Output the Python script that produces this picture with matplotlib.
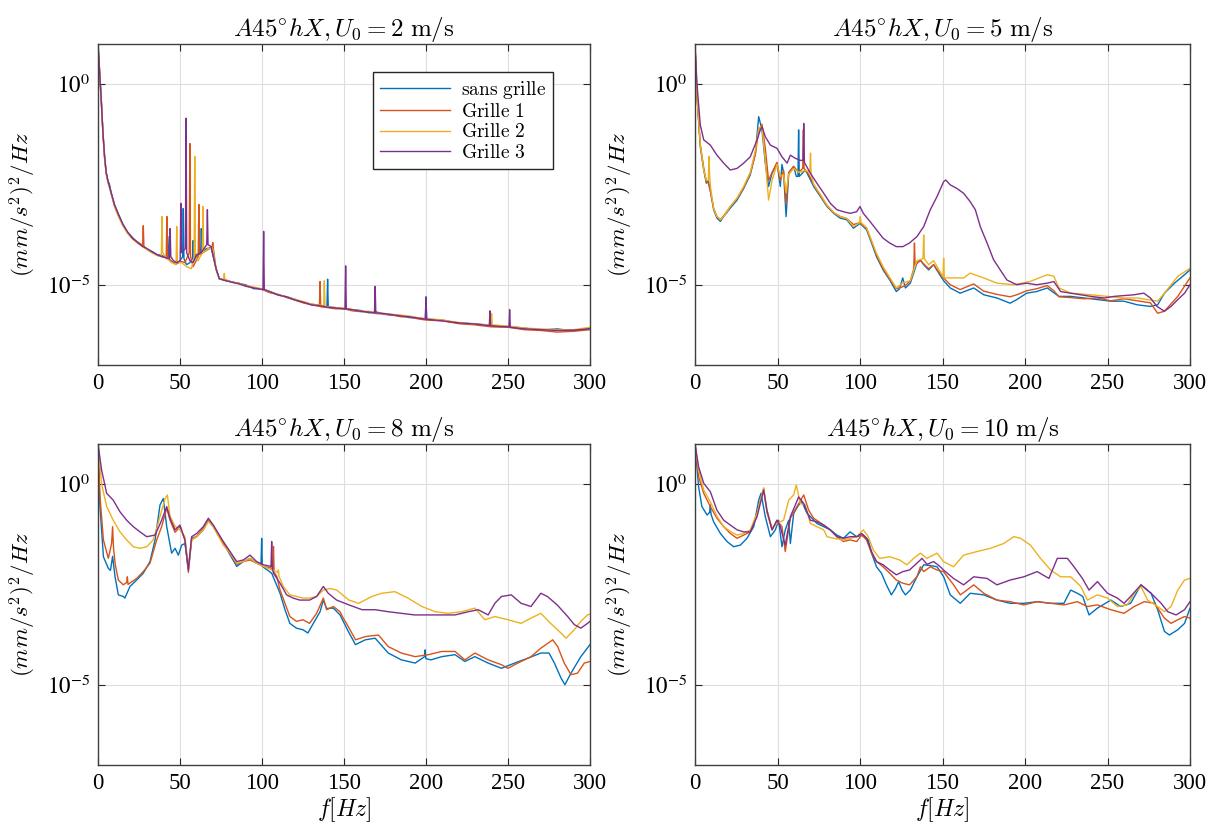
import matplotlib
matplotlib.use('Agg')
import matplotlib.pyplot as plt
import numpy as np
from matplotlib.ticker import NullLocator

# spectres : (frequence Hz, log10 PSD)
u2_sans = [(0,1.0),(1,0.3),(2,-0.4),(3,-1.2),(4,-1.8),(5,-2.2),(6,-2.4),(7,-2.5),(8,-2.7),(10,-3.0),(12,-3.2),(15,-3.48),(18,-3.7),(21,-3.82),(24,-3.95),(27,-4.02),(30,-4.12),(33,-4.17),(36,-4.25),(39,-4.27),(42,-4.35),(42.6,-3.8),(43.2,-4.35),(45,-4.42),(48,-4.48),(50,-4.4),(51.6,-4.3),(52,-3.1),(52.4,-4.35),(54,-4.5),(56,-4.45),(57.6,-4.35),(58,-3.9),(58.4,-4.4),(60,-4.3),(62.6,-4.2),(63,-3.6),(63.4,-4.2),(66,-4.1),(69,-4.08),(72,-4.6),(74,-4.85),(78,-4.9),(82,-4.93),(86,-4.97),(90,-5.0),(95,-5.1),(100,-5.1),(105,-5.17),(110,-5.25),(115,-5.3),(120,-5.36),(125,-5.44),(130,-5.48),(135,-5.52),(139.6,-5.55),(140,-4.86),(140.4,-5.55),(145,-5.57),(150,-5.6),(155,-5.62),(160,-5.64),(165,-5.7),(170,-5.68),(175,-5.74),(180,-5.76),(185,-5.77),(190,-5.82),(195,-5.83),(199.6,-5.85),(200,-5.3),(200.4,-5.86),(210,-5.88),(220,-5.96),(230,-5.97),(240,-6.02),(250,-6.04),(260,-6.08),(270,-6.13),(280,-6.1),(290,-6.15),(300,-6.08)]
u2_g1 = [(0,1.0),(1,0.28),(2,-0.42),(3,-1.22),(4,-1.82),(5,-2.22),(6,-2.42),(7,-2.56),(8,-2.72),(10,-3.02),(12,-3.24),(15,-3.5),(18,-3.7),(21,-3.85),(24,-3.93),(27.2,-4.02),(27.6,-3.53),(28,-4.04),(30,-4.12),(33,-4.2),(36,-4.26),(39,-4.3),(41.6,-4.3),(42,-3.3),(42.4,-4.3),(45,-4.44),(48,-4.47),(51,-4.42),(53,-4.45),(55.6,-4.2),(56,-1.48),(56.4,-4.3),(58,-4.55),(61.1,-4.3),(61.5,-3.0),(61.9,-4.25),(64,-4.2),(66,-4.15),(69.6,-4.05),(70,-3.95),(70.4,-4.1),(72,-4.62),(74,-4.86),(78,-4.88),(82,-4.94),(86,-4.96),(90,-5.04),(95,-5.07),(100,-5.12),(105,-5.2),(110,-5.24),(115,-5.32),(120,-5.38),(125,-5.45),(130,-5.5),(135,-5.54),(135.4,-4.92),(135.8,-5.55),(140,-5.57),(145,-5.6),(150,-5.6),(155,-5.65),(160,-5.67),(165,-5.68),(170,-5.72),(175,-5.73),(180,-5.76),(185,-5.8),(190,-5.8),(195,-5.85),(200,-5.88),(210,-5.9),(220,-5.97),(230,-6.0),(240,-6.05),(250,-6.06),(260,-6.12),(270,-6.14),(280,-6.18),(290,-6.16),(300,-6.12)]
u2_g2 = [(0,1.0),(1,0.3),(2,-0.4),(3,-1.2),(4,-1.85),(5,-2.25),(6,-2.45),(7,-2.58),(8,-2.72),(10,-3.05),(12,-3.25),(15,-3.52),(18,-3.72),(21,-3.86),(24,-3.96),(27,-4.05),(30,-4.13),(33,-4.2),(36,-4.27),(38.6,-4.3),(39,-3.3),(39.4,-4.2),(42,-4.35),(45,-4.45),(47.6,-4.5),(48,-3.55),(48.4,-4.45),(51,-4.45),(54,-4.55),(57,-4.6),(58.6,-4.3),(59,-1.8),(59.4,-4.3),(61,-4.4),(63.6,-4.2),(64,-3.05),(64.4,-4.2),(67,-4.1),(70,-4.1),(72,-4.62),(74,-4.86),(76.6,-4.86),(77,-4.72),(77.4,-4.86),(80,-4.92),(85,-4.96),(90,-5.02),(95,-5.06),(100,-5.1),(105,-5.18),(110,-5.26),(115,-5.3),(120,-5.36),(125,-5.42),(130,-5.48),(137.6,-5.52),(138,-4.9),(138.4,-5.54),(145,-5.57),(150,-5.58),(155,-5.62),(160,-5.66),(165,-5.66),(170,-5.7),(175,-5.72),(180,-5.74),(185,-5.76),(190,-5.78),(195,-5.82),(200,-5.84),(210,-5.88),(220,-5.94),(230,-5.98),(239.6,-6.0),(240,-5.72),(240.4,-6.0),(250,-6.03),(260,-6.08),(270,-6.1),(280,-6.12),(290,-6.12),(300,-6.06)]
u2_g3 = [(0,1.0),(1,0.3),(2,-0.4),(3,-1.2),(4,-1.8),(5,-2.2),(6,-2.4),(7,-2.55),(8,-2.7),(10,-3.0),(12,-3.2),(15,-3.48),(18,-3.68),(21,-3.84),(24,-3.94),(27,-4.04),(30,-4.1),(33,-4.18),(36,-4.25),(39,-4.3),(43.6,-4.35),(44,-3.6),(44.4,-4.3),(46,-4.4),(48,-4.45),(50.1,-4.4),(50.5,-2.97),(50.9,-4.2),(53.3,-4.1),(53.7,-0.85),(54.1,-4.2),(56,-4.4),(58,-4.45),(60,-4.25),(63,-4.2),(66.3,-4.0),(66.7,-3.13),(67.1,-4.0),(69,-4.05),(72,-4.6),(74,-4.85),(78,-4.9),(82,-4.94),(86,-4.98),(90,-5.03),(95,-5.08),(100.6,-5.12),(101,-3.67),(101.4,-5.12),(105,-5.18),(110,-5.26),(115,-5.3),(120,-5.38),(125,-5.43),(130,-5.5),(135,-5.52),(140,-5.56),(145,-5.58),(150.6,-5.6),(151,-4.53),(151.4,-5.6),(155,-5.62),(160,-5.66),(165,-5.68),(168.6,-5.7),(169,-5.04),(169.4,-5.7),(175,-5.72),(180,-5.75),(185,-5.78),(190,-5.8),(195,-5.83),(199.6,-5.86),(200,-5.33),(200.4,-5.86),(210,-5.9),(220,-5.95),(230,-5.98),(238.6,-6.02),(239,-5.65),(239.4,-6.02),(245,-6.04),(250.6,-6.05),(251,-5.62),(251.4,-6.06),(260,-6.1),(270,-6.12),(280,-6.14),(290,-6.13),(300,-6.1)]

u5_sans = [(0,1.0),(1.2,-0.3),(3.2,-1.56),(5.3,-2.14),(6.9,-2.47),(8,-2.4),(9.5,-2.7),(11.3,-3.13),(13.3,-3.34),(15.4,-3.42),(17.4,-3.3),(21.4,-3.09),(25.5,-2.89),(29.5,-2.6),(33.5,-2.26),(36.6,-1.72),(38.6,-0.81),(40.6,-1.14),(42.6,-1.97),(44.6,-2.55),(46.7,-2.22),(49.7,-1.97),(51.7,-2.55),(52.7,-2.0),(53.7,-2.2),(55.2,-3.3),(56.8,-2.22),(59.8,-2.05),(61.4,-2.3),(62.4,-2.3),(62.8,-1.14),(63.2,-2.3),(66.9,-2.14),(68.9,-2.3),(71.9,-2.55),(76,-2.8),(80,-3.05),(84,-3.22),(88,-3.34),(92,-3.38),(96,-3.59),(100,-3.47),(104,-3.63),(107,-3.96),(110,-4.3),(114,-4.63),(118,-4.88),(122,-5.17),(124,-5.1),(125.9,-4.83),(127.5,-5.08),(130.5,-4.96),(134.5,-4.46),(136.6,-4.38),(138.6,-4.5),(141.6,-4.63),(144.6,-4.5),(147.7,-4.71),(150.7,-4.9),(154.7,-5.08),(160.7,-5.21),(168.9,-5.08),(175,-5.25),(183,-5.33),(191,-5.46),(195,-5.37),(201,-5.21),(207,-5.17),(213.5,-5.08),(217.5,-5.2),(220.6,-5.29),(227.7,-5.29),(235.8,-5.33),(244,-5.37),(252,-5.41),(260,-5.41),(268,-5.5),(276,-5.54),(280.4,-5.5),(284.5,-5.21),(290.6,-4.96),(296.7,-4.75),(300,-4.63)]
u5_g1 = [(0,1.0),(1.2,-0.3),(3.2,-1.5),(5.3,-2.1),(6.9,-2.45),(8,-2.45),(9.5,-2.7),(11.3,-3.1),(13.3,-3.3),(15.4,-3.38),(17.4,-3.28),(21.4,-3.05),(25.5,-2.85),(29.5,-2.58),(33.5,-2.22),(36.6,-1.75),(38.6,-1.15),(40.6,-1.0),(42.6,-1.6),(44.6,-2.4),(46.7,-2.2),(49.7,-1.95),(51.7,-2.4),(53.7,-2.15),(55.2,-3.0),(56.8,-2.2),(59.8,-2.05),(62.8,-2.2),(65.3,-2.1),(65.7,-1.14),(66.1,-2.1),(68.9,-2.25),(71.9,-2.5),(76,-2.78),(80,-3.02),(84,-3.2),(88,-3.3),(92,-3.35),(96,-3.5),(100,-3.45),(104,-3.6),(107,-3.92),(110,-4.25),(114,-4.6),(118,-4.85),(122,-5.1),(125.9,-5.05),(128,-5.0),(130.5,-4.9),(132.6,-4.6),(133,-3.96),(133.4,-4.5),(136.6,-4.4),(138.6,-4.48),(141.6,-4.6),(144.6,-4.5),(147.7,-4.68),(150.7,-4.83),(154.7,-5.0),(160.7,-5.12),(168.9,-4.98),(175,-5.16),(183,-5.24),(191,-5.3),(195,-5.25),(201,-5.15),(207,-5.1),(213.5,-5.02),(217.5,-5.15),(220.6,-5.3),(227.7,-5.32),(235.8,-5.35),(244,-5.33),(252,-5.4),(260,-5.35),(268,-5.4),(276,-5.45),(280.4,-5.71),(284.5,-5.66),(292.6,-5.29),(300,-4.83)]
u5_g2 = [(0,1.0),(1.2,-0.25),(3.2,-1.5),(5.3,-2.15),(6.9,-2.4),(8.1,-2.4),(8.5,-1.8),(8.9,-2.3),(9.5,-2.6),(11.3,-3.1),(13.3,-3.3),(15.4,-3.38),(17.4,-3.3),(21.4,-3.05),(25.5,-2.84),(29.5,-2.55),(33.5,-2.2),(36.6,-1.65),(38.6,-1.1),(40.6,-1.05),(42.6,-1.9),(44.6,-2.89),(46.7,-2.4),(49.7,-2.0),(51.7,-2.3),(53.7,-2.25),(55.2,-2.7),(56.8,-2.25),(59.8,-2.1),(62.8,-2.2),(66.9,-2.15),(69.6,-2.2),(70,-1.72),(70.4,-2.25),(71.9,-2.5),(76,-2.75),(80,-3.02),(84,-3.2),(88,-3.3),(92,-3.35),(96,-3.55),(99.8,-3.45),(100.2,-3.3),(100.6,-3.45),(104,-3.58),(107,-3.9),(110,-4.22),(114,-4.55),(118,-4.82),(122,-5.08),(126,-4.95),(130.5,-4.9),(134.5,-4.4),(138.2,-4.35),(138.6,-3.76),(139,-4.35),(141.6,-4.5),(144.6,-4.4),(147.7,-4.62),(150.3,-4.8),(150.7,-4.34),(151.1,-4.83),(156,-4.83),(162.8,-4.83),(166.8,-4.71),(175,-4.83),(183,-4.96),(193,-5.0),(203,-4.92),(213.5,-4.75),(217.5,-4.79),(220.6,-5.08),(227.7,-5.21),(240,-5.25),(250,-5.29),(260,-5.33),(268,-5.33),(274.3,-5.37),(280.4,-5.41),(284.5,-5.21),(292.6,-4.79),(300,-4.59)]
u5_g3 = [(0,1.0),(1.2,0.0),(3.2,-1.02),(5.3,-1.39),(9.3,-1.52),(13.3,-1.77),(17.4,-1.97),(21.4,-2.14),(25.5,-2.1),(29.5,-1.97),(33.5,-1.81),(37.6,-1.39),(39.6,-1.14),(40.6,-1.06),(42.6,-1.31),(45.7,-1.52),(49.7,-1.6),(52.7,-1.81),(55.8,-1.97),(57.8,-1.77),(60.8,-1.85),(63.8,-1.9),(65.5,-1.9),(65.9,-0.98),(66.3,-1.95),(69.9,-2.22),(73.9,-2.47),(78,-2.72),(82,-2.97),(86,-3.13),(90,-3.18),(94,-3.22),(98,-3.18),(100,-3.05),(102,-3.22),(106,-3.42),(110,-3.63),(114,-3.84),(118,-3.96),(122,-4.05),(126,-4.05),(130,-3.96),(134.5,-3.8),(138.6,-3.55),(142.6,-3.13),(146.7,-2.8),(150.7,-2.43),(152,-2.39),(154.7,-2.51),(158.7,-2.6),(162.8,-2.72),(166.8,-2.93),(169.9,-3.13),(172.9,-3.55),(177,-3.96),(181,-4.38),(185,-4.63),(189,-4.88),(195,-5.0),(201,-4.96),(207,-5.0),(213.5,-4.96),(217.5,-4.92),(221.6,-5.17),(227.7,-5.21),(233.8,-5.25),(239.9,-5.29),(248,-5.33),(254,-5.29),(260,-5.27),(266,-5.25),(272,-5.21),(276,-5.33),(280,-5.54),(284.5,-5.66),(288.5,-5.54),(292.6,-5.37),(296.7,-5.21),(300,-5.0)]

u8_sans = [(0,1.0),(1.2,-0.56),(3.3,-1.81),(6.3,-2.1),(7.6,-2.15),(8.9,-1.8),(10.4,-2.31),(12.4,-2.76),(15.4,-2.8),(16.4,-2.84),(19.5,-2.55),(23.6,-2.39),(27.6,-2.22),(31.7,-1.93),(34.8,-1.39),(37.8,-0.52),(39.8,-0.36),(41.9,-1.06),(44.9,-1.72),(47,-1.6),(49,-1.77),(51,-1.52),(53,-1.48),(55.1,-2.1),(57.1,-1.35),(60.2,-1.31),(64.2,-1.14),(67.3,-0.9),(70.3,-1.06),(76.4,-1.47),(80.5,-1.76),(84.6,-2.05),(88.6,-1.93),(92.7,-1.85),(96.7,-1.97),(99.4,-2.0),(99.8,-1.35),(100.2,-2.05),(105.9,-2.22),(111,-2.72),(114,-3.13),(117,-3.47),(121,-3.59),(125,-3.63),(128,-3.71),(131.3,-3.47),(135.4,-3.18),(137.4,-2.89),(139.4,-3.1),(143.5,-3.09),(147.6,-3.26),(152.6,-3.67),(157,-4.0),(163,-3.88),(169,-3.84),(177,-4.21),(185,-4.38),(193.4,-4.46),(199.1,-4.3),(199.5,-4.13),(199.9,-4.35),(203,-4.38),(209.6,-4.3),(217.7,-4.25),(223.7,-4.42),(229.8,-4.3),(237.9,-4.46),(246,-4.59),(254,-4.46),(262,-4.34),(270,-4.21),(275,-4.21),(278.3,-4.46),(282.3,-4.83),(284.7,-5.0),(288.4,-4.71),(294.4,-4.3),(300,-4.0)]
u8_g1 = [(0,1.0),(1.2,-0.3),(3.3,-1.39),(6.3,-1.85),(8.3,-1.48),(8.9,-1.06),(9.5,-1.6),(10.5,-2.0),(12.4,-2.39),(15.4,-2.51),(17.5,-2.45),(17.9,-2.31),(18.3,-2.5),(20,-2.45),(23.6,-2.35),(27.6,-2.18),(31.7,-1.97),(35.8,-1.39),(38.8,-1.06),(41.9,-0.6),(43.9,-0.9),(47,-1.2),(50,-1.06),(53,-1.39),(55.1,-2.2),(57.1,-1.39),(60.2,-1.3),(64.2,-1.1),(67.3,-0.9),(70.3,-1.05),(76.4,-1.47),(80.5,-1.72),(84.6,-2.0),(88.6,-1.93),(92.7,-1.89),(96.7,-1.97),(100.8,-2.05),(106.6,-2.1),(107,-1.55),(107.4,-2.2),(109,-2.3),(111,-2.64),(114,-2.97),(117,-3.3),(121,-3.42),(125,-3.38),(129,-3.47),(133.3,-3.22),(137.4,-2.84),(139.4,-3.13),(143.5,-3.05),(147.6,-3.18),(149,-3.3),(152.6,-3.55),(157,-3.88),(163,-3.8),(171,-3.76),(177,-4.05),(185,-4.21),(193.4,-4.3),(201.5,-4.25),(209.6,-4.17),(217.7,-4.17),(223.7,-4.38),(229.8,-4.21),(237.9,-4.38),(246,-4.5),(250,-4.59),(256,-4.46),(264,-4.3),(270,-4.09),(277.3,-3.88),(280.3,-4.05),(284.3,-4.46),(288.4,-4.75),(292.4,-4.71),(296.5,-4.46),(300,-4.42)]
u8_g2 = [(0,1.0),(2.2,0.0),(5.3,-0.56),(9.3,-0.9),(13.4,-1.19),(17.5,-1.39),(21.5,-1.56),(25.6,-1.6),(29.7,-1.56),(33.7,-1.39),(37.8,-0.81),(40.9,-0.36),(42.3,-0.27),(43.9,-0.8),(47,-1.05),(50,-1.14),(53,-1.31),(55.1,-2.1),(57.1,-1.39),(60.2,-1.31),(64.2,-1.14),(67.3,-0.93),(70.3,-1.06),(76.4,-1.52),(80.5,-1.72),(84.6,-1.97),(88.6,-1.93),(92.7,-1.85),(96.7,-1.97),(100.8,-2.05),(105.9,-2.14),(109.6,-2.2),(110,-2.14),(110.4,-2.3),(113,-2.55),(117,-2.76),(121,-2.8),(125,-2.84),(129,-2.84),(133.3,-2.8),(137.4,-2.64),(141.5,-2.6),(145.5,-2.64),(153,-2.89),(159,-2.97),(167,-2.8),(173,-2.72),(181,-2.68),(189,-2.84),(197.5,-3.05),(205.6,-3.18),(213.6,-3.22),(221.7,-3.18),(229.8,-3.09),(235.9,-3.38),(242,-3.3),(250,-3.38),(258,-3.47),(264,-3.34),(270,-3.22),(276,-3.47),(282.3,-3.71),(285.4,-3.84),(290.4,-3.63),(294.4,-3.42),(298.5,-3.26),(300,-3.24)]
u8_g3 = [(0,1.0),(2.2,0.35),(5.3,-0.23),(9.3,-0.4),(13.4,-0.69),(17.5,-0.9),(21.5,-1.06),(25.6,-1.19),(29.7,-1.31),(34.8,-1.27),(38.8,-0.9),(41.9,-0.56),(43.9,-0.85),(47,-1.14),(50,-1.02),(53,-1.39),(55.1,-2.14),(57.1,-1.31),(60.2,-1.23),(64.2,-1.06),(67.3,-0.85),(70.3,-1.02),(73.4,-1.23),(76.4,-1.43),(80.5,-1.68),(84.6,-1.93),(88.6,-1.89),(92.7,-1.77),(96.7,-1.93),(100.8,-2.01),(105.5,-2.05),(105.9,-1.43),(106.3,-2.1),(107,-2.22),(111,-2.47),(115,-2.76),(119,-2.84),(123,-2.89),(129,-2.89),(133.3,-2.8),(137.4,-2.55),(140.4,-2.72),(145.5,-2.89),(153,-3.01),(161,-3.13),(169,-3.13),(177,-3.18),(185,-3.22),(193,-3.26),(201.5,-3.26),(209.6,-3.26),(217.7,-3.26),(225.8,-3.18),(231.8,-3.13),(237.9,-3.26),(242,-2.97),(246,-2.8),(252,-2.76),(258,-2.97),(264,-3.05),(270,-2.72),(274,-2.8),(280,-3.01),(286.4,-3.3),(290.4,-3.5),(294.4,-3.59),(298.5,-3.47),(300,-3.42)]

u10_sans = [(0,1.0),(2.2,-0.07),(4.2,-0.56),(7.3,-0.77),(8.9,-0.7),(9.3,-0.52),(9.7,-0.75),(11.3,-0.94),(15.4,-1.23),(19.4,-1.43),(23.4,-1.56),(27.5,-1.52),(31.5,-1.35),(35.6,-1.06),(38.6,-0.4),(40,-0.23),(42.6,-0.81),(45.7,-1.31),(48.7,-1.14),(50.7,-0.9),(52.7,-1.56),(54.7,-1.14),(56.8,-0.9),(57.8,-1.48),(59.8,-0.73),(62.8,-0.52),(64.8,-0.44),(67.9,-0.73),(70.9,-0.85),(73.9,-0.98),(78,-1.06),(82,-1.14),(86,-1.27),(90,-1.35),(94,-1.19),(98,-1.31),(102,-1.27),(105,-1.39),(107,-1.72),(110,-2.06),(113,-2.22),(116,-2.51),(119,-2.76),(121.5,-2.6),(123.4,-2.43),(125.5,-2.64),(127.5,-2.76),(130.5,-2.64),(134.5,-2.31),(138.6,-2.01),(142.6,-2.03),(146.7,-2.06),(150.7,-2.31),(154.7,-2.76),(160.8,-2.97),(166.8,-2.72),(175,-2.76),(183,-2.89),(191,-2.97),(199.3,-2.97),(207.4,-2.93),(215.5,-2.97),(223.6,-2.97),(227.7,-2.64),(231.7,-2.72),(235,-2.8),(238.8,-3.26),(243.9,-3.09),(252,-2.89),(258,-3.05),(264,-2.97),(270.3,-2.51),(276.4,-2.72),(280.4,-3.13),(284.5,-3.67),(287.5,-3.76),(292.6,-3.63),(296.7,-3.47),(300,-3.09)]
u10_g1 = [(0,1.0),(2.2,0.18),(5.3,-0.23),(9.3,-0.56),(13.3,-0.85),(17.4,-1.06),(21.4,-1.23),(25.5,-1.35),(29.5,-1.27),(33.5,-1.19),(37.6,-0.73),(41.6,-0.1),(43.6,-0.7),(46.7,-1.14),(49.7,-0.9),(52.7,-1.06),(54.7,-1.68),(57.8,-0.85),(61.8,-0.56),(65.9,-0.27),(68.9,-0.65),(71.9,-0.85),(78,-1.02),(82,-1.14),(86,-1.31),(90,-1.43),(94,-1.39),(98,-1.43),(101,-1.27),(104,-1.39),(107,-1.72),(110,-1.93),(114,-2.06),(118,-2.22),(122,-2.39),(126,-2.47),(130,-2.51),(134.5,-2.31),(136.6,-2.06),(138.6,-2.18),(142.6,-2.06),(146.7,-2.14),(150.6,-2.18),(156.7,-2.51),(160.8,-2.76),(164.8,-2.64),(168.9,-2.51),(175,-2.72),(183,-2.89),(191,-2.93),(199.3,-3.01),(207.4,-2.93),(215.5,-2.97),(223.6,-3.01),(231.7,-2.93),(237.8,-3.05),(243.9,-3.01),(252,-3.13),(260,-3.22),(266.2,-3.05),(272.3,-2.93),(278.4,-2.97),(284.5,-3.34),(288.5,-3.47),(292.6,-3.38),(296.7,-3.3),(300,-3.34)]
u10_g2 = [(0,1.0),(2.2,0.35),(5.3,-0.15),(9.3,-0.44),(13.3,-0.8),(17.4,-1.06),(21.4,-1.18),(25.5,-1.27),(29.5,-1.23),(33.5,-1.14),(37.6,-0.73),(41.6,-0.1),(43.6,-0.65),(46.7,-1.1),(49.7,-0.98),(53.7,-0.9),(56.8,-0.4),(59.8,-0.27),(61.4,-0.02),(63.8,-0.48),(66.9,-0.52),(69.9,-0.98),(73.9,-1.06),(78,-1.14),(80,-1.31),(84,-1.35),(90,-1.39),(98,-1.31),(102,-1.14),(105,-1.31),(108,-1.64),(112,-1.85),(118,-1.81),(124,-1.89),(128.5,-2.01),(132.5,-1.85),(136.6,-1.72),(140.6,-1.85),(146.7,-1.72),(150.6,-1.93),(156.7,-2.06),(162.8,-1.77),(170.9,-1.68),(179,-1.6),(187.1,-1.48),(193.2,-1.31),(197.3,-1.35),(203.3,-1.52),(209.4,-1.85),(215.5,-2.14),(221.6,-2.31),(227.7,-2.31),(233.8,-2.55),(237.8,-2.89),(243.9,-2.76),(250,-2.84),(256,-3.05),(262,-3.01),(266.2,-2.72),(270.3,-2.55),(274.3,-2.89),(280.4,-3.05),(284.5,-3.18),(288.5,-3.05),(292.6,-2.64),(296.7,-2.39),(300,-2.35)]
u10_g3 = [(0,1.0),(2.2,0.43),(5.3,0.02),(9.3,-0.19),(13.3,-0.65),(17.4,-0.9),(21.4,-1.02),(25.5,-1.14),(29.5,-1.19),(33.5,-1.19),(37.6,-0.81),(41.6,-0.15),(43.6,-0.65),(46.7,-1.14),(49.7,-0.9),(51.7,-1.06),(54.7,-1.52),(57.8,-0.81),(60.8,-0.52),(62.8,-0.32),(65.9,-0.48),(69.9,-0.9),(73.9,-0.94),(78,-1.02),(82,-1.14),(86,-1.31),(90,-1.35),(94,-1.31),(98,-1.31),(101,-1.23),(104,-1.35),(107,-1.68),(110,-1.93),(114,-2.01),(118,-2.14),(122,-2.26),(126,-2.18),(130,-2.14),(134.5,-1.97),(137.6,-1.85),(140.6,-2.0),(144.6,-1.93),(148.7,-2.06),(150.6,-2.14),(156.7,-2.35),(162.8,-2.51),(168.9,-2.31),(177,-2.35),(183,-2.51),(191,-2.39),(199.3,-2.31),(207.4,-2.18),(214.5,-2.35),(219.6,-1.85),(225.7,-1.85),(229.7,-2.06),(234.8,-2.35),(238.8,-2.64),(243.9,-2.43),(250,-2.72),(256,-2.84),(260,-2.97),(264,-2.8),(270.3,-2.51),(276.4,-2.72),(282.5,-2.97),(286.5,-3.18),(291.6,-3.26),(296.7,-3.13),(300,-2.93)]

vitesses = [2, 5, 8, 10]
panneaux = [[u2_sans, u2_g1, u2_g2, u2_g3],
            [u5_sans, u5_g1, u5_g2, u5_g3],
            [u8_sans, u8_g1, u8_g2, u8_g3],
            [u10_sans, u10_g1, u10_g2, u10_g3]]
noms = ['sans grille', 'Grille 1', 'Grille 2', 'Grille 3']
couleurs = ['#0072BD', '#D95319', '#EDB120', '#7E2F8E']

plt.rcParams['font.family'] = 'Liberation Serif'
plt.rcParams['mathtext.fontset'] = 'stix'

W, H = 1217, 832
fig = plt.figure(figsize=(W / 100, H / 100), dpi=100)
cadres = [(98, 44, 590, 365), (695, 44, 1190, 365),
          (98, 444, 590, 765), (695, 444, 1190, 765)]

for k, (x0, y0, x1, y1) in enumerate(cadres):
    ax = fig.add_axes([x0 / W, 1 - y1 / H, (x1 - x0) / W, (y1 - y0) / H])
    for serie, c, nom in zip(panneaux[k], couleurs, noms):
        f = np.array([p[0] for p in serie])
        v = 10.0 ** np.array([p[1] for p in serie])
        ax.semilogy(f, v, color=c, lw=1.0, label=r'$\mathrm{' + nom.replace(' ', r'\ ') + '}$')
    ax.set_xlim(0, 300)
    ax.set_ylim(1e-7, 1e1)
    ax.set_xticks(range(0, 301, 50))
    ax.set_yticks([1e0, 1e-5])
    ax.set_yticklabels([r'$10^{0}$', r'$10^{-5}$'])
    ax.yaxis.set_minor_locator(NullLocator())
    ax.tick_params(direction='in', top=True, right=True, labelsize=16.5,
                   length=5, width=0.8, color='#262626', pad=6)
    ax.grid(True, color='#dedede', lw=0.8)
    for s in ax.spines.values():
        s.set_color('#404040')
        s.set_linewidth(1.0)
    ax.set_title(r'$A45^{\circ}hX, U_0 = %d\ \mathrm{m/s}$' % vitesses[k],
                 fontsize=18, math_fontfamily='cm', pad=6)
    ax.set_ylabel(r'$(mm/s^2)^2/Hz$', fontsize=16.5, math_fontfamily='cm', labelpad=6)
    if k >= 2:
        ax.set_xlabel(r'$f[Hz]$', fontsize=17, math_fontfamily='cm', labelpad=1)
    if k == 0:
        leg = ax.legend(loc='upper right', bbox_to_anchor=(0.925, 0.913),
                        borderaxespad=0, fancybox=False, edgecolor='#262626',
                        framealpha=1, fontsize=14, handlelength=3.6,
                        labelspacing=0.12, borderpad=0.35, handletextpad=0.6)
        leg.get_frame().set_linewidth(1.0)
        for t in leg.get_texts():
            t.set_math_fontfamily('cm')

fig.savefig('out.png', dpi=100)
